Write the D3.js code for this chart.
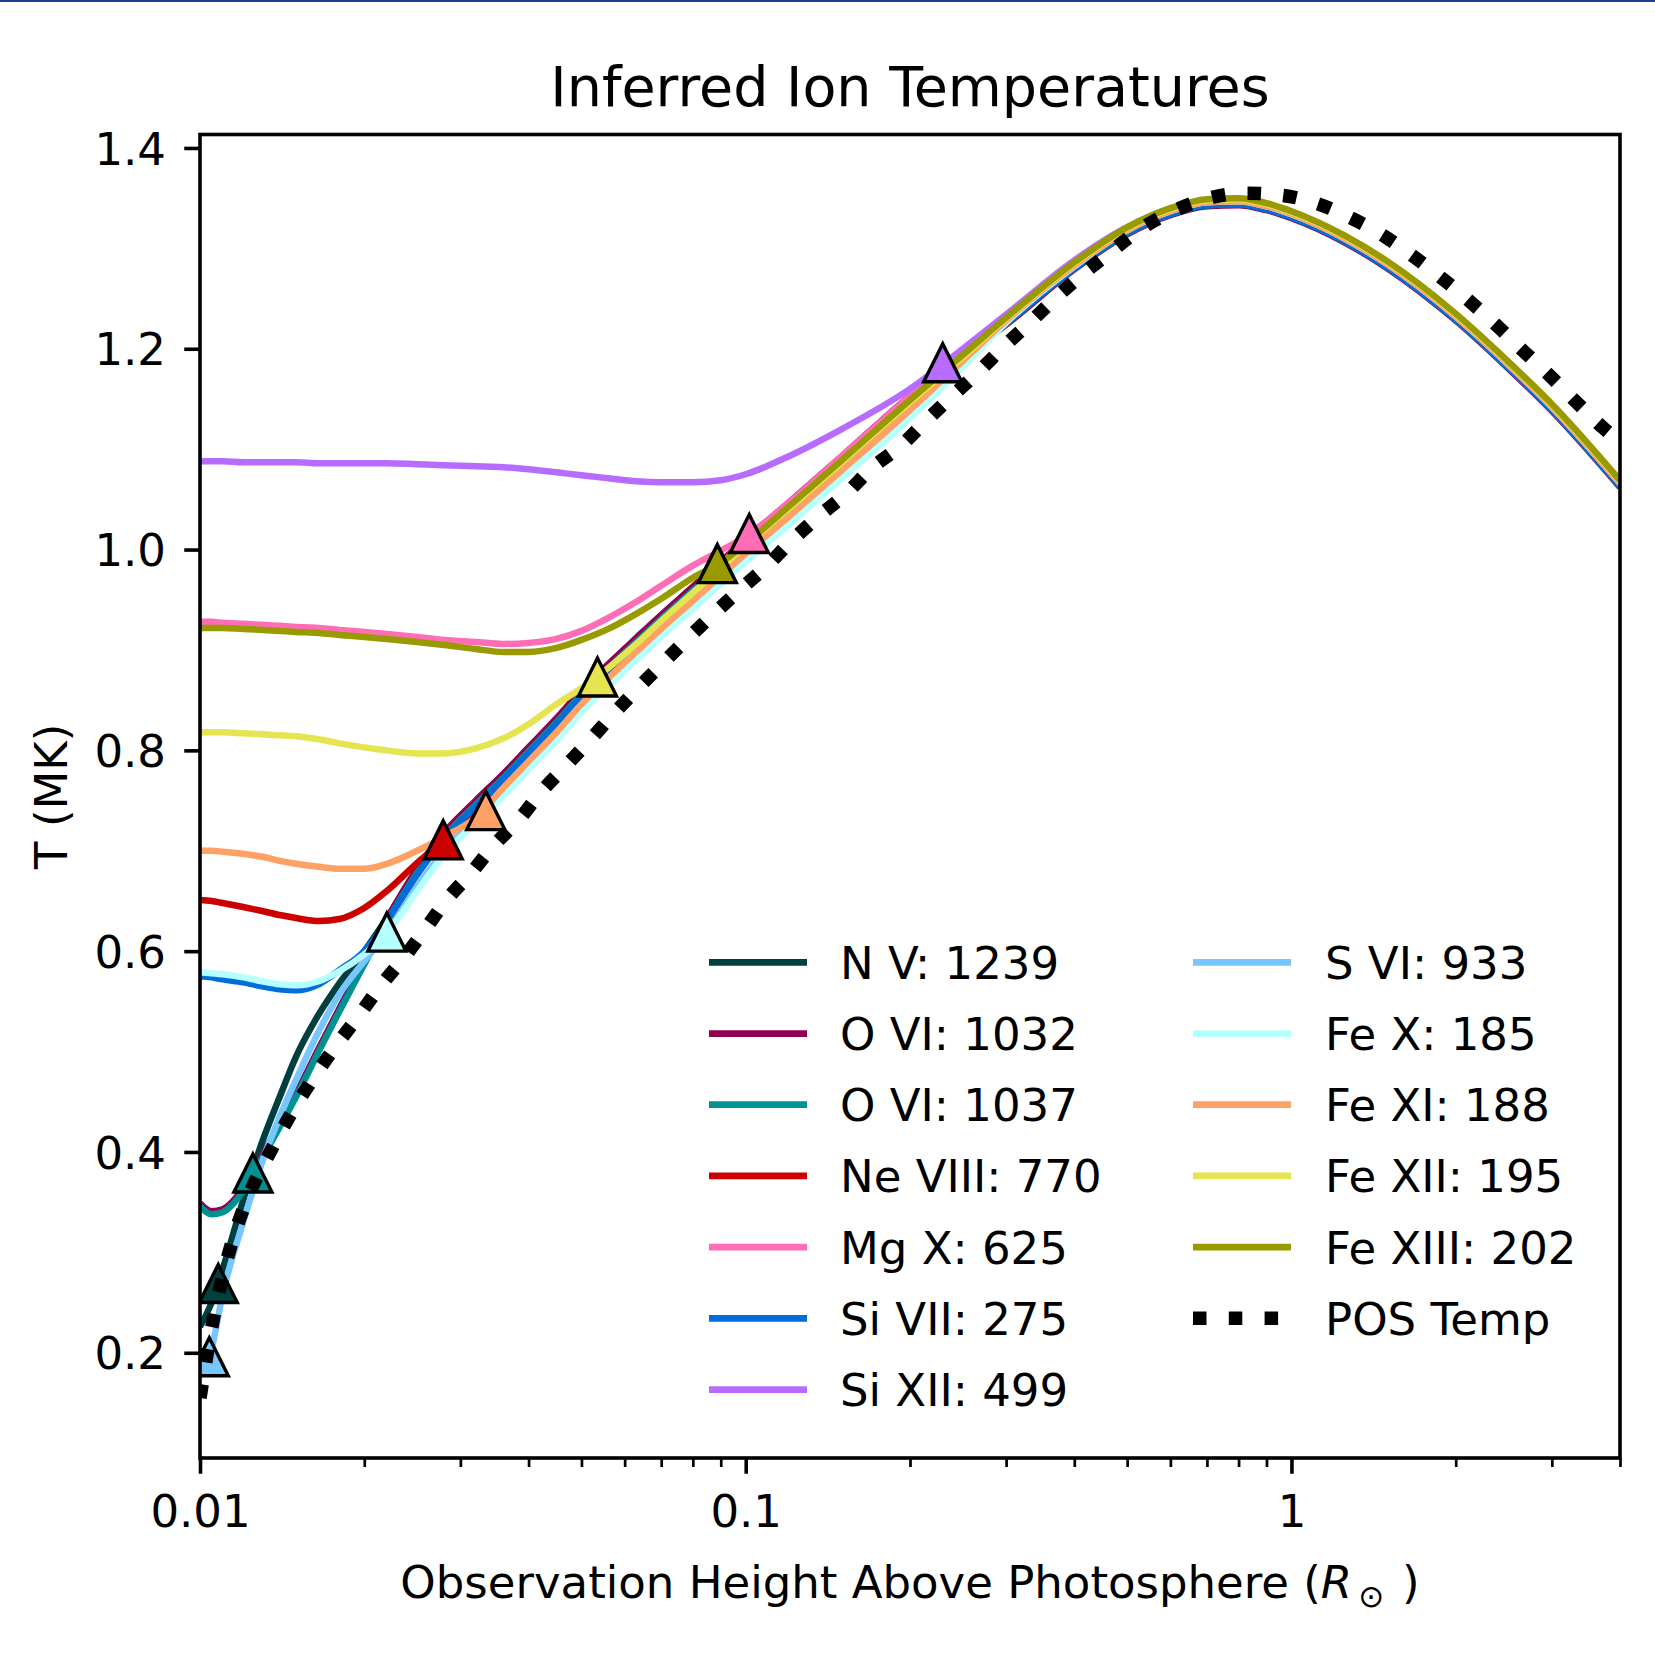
<!DOCTYPE html>
<html>
<head>
<meta charset="utf-8">
<script src="https://cdn.jsdelivr.net/npm/d3@7"></script>
<style>
  body { margin: 0; background: #fff; }
  text { font-family: "DejaVu Sans", sans-serif; fill: #000; }
</style>
</head>
<body>
<div id="chart"></div>
<script>
// --- DATA ---
// shared height grid (R_sun above photosphere)
const heights = [0.01, 0.0105, 0.011, 0.012, 0.013, 0.014, 0.015, 0.0165, 0.018, 0.02,
  0.022, 0.025, 0.028, 0.032, 0.036, 0.04, 0.045, 0.05, 0.056, 0.063,
  0.07, 0.08, 0.09, 0.1, 0.12, 0.15, 0.2, 0.25, 0.3, 0.4,
  0.5, 0.6, 0.7, 0.8, 0.9, 1.0, 1.25, 1.5, 2, 2.5, 3, 4];

const ionLabels = ["N V: 1239", "O VI: 1032", "O VI: 1037", "Ne VIII: 770", "Mg X: 625", "Si VII: 275",
  "Si XII: 499", "S VI: 933", "Fe X: 185", "Fe XI: 188", "Fe XII: 195", "Fe XIII: 202"];
const ionColors = ["#003f3f", "#920050", "#009292", "#cc0000", "#ff6db6", "#006ddb",
  "#b66dff", "#78c6ff", "#b6ffff", "#ffa064", "#e5e552", "#999900"];

// inferred temperatures (MK) on the height grid
const tNV = [0.226, 0.250, 0.283, 0.352, 0.410, 0.455, 0.495, 0.537, 0.568, 0.600, 0.633, 0.680, 0.716, 0.748, 0.775, 0.801, 0.830, 0.858, 0.884, 0.910, 0.933, 0.961, 0.986, 1.008, 1.045, 1.091, 1.151, 1.192, 1.225, 1.280, 1.315, 1.334, 1.343, 1.344, 1.339, 1.331, 1.307, 1.281, 1.229, 1.181, 1.139, 1.063];
const tOVI1032 = [0.349, 0.341, 0.343, 0.364, 0.397, 0.428, 0.458, 0.503, 0.543, 0.590, 0.632, 0.682, 0.718, 0.750, 0.777, 0.803, 0.832, 0.860, 0.886, 0.912, 0.935, 0.963, 0.988, 1.010, 1.047, 1.093, 1.153, 1.193, 1.224, 1.279, 1.314, 1.333, 1.342, 1.343, 1.338, 1.330, 1.306, 1.280, 1.228, 1.180, 1.138, 1.062];
const tOVI1037 = [0.346, 0.338, 0.340, 0.361, 0.394, 0.425, 0.455, 0.500, 0.540, 0.587, 0.629, 0.678, 0.714, 0.746, 0.773, 0.799, 0.828, 0.856, 0.882, 0.908, 0.931, 0.959, 0.984, 1.006, 1.043, 1.089, 1.149, 1.191, 1.225, 1.280, 1.315, 1.334, 1.343, 1.344, 1.339, 1.331, 1.307, 1.281, 1.229, 1.181, 1.139, 1.063];
const tNeVIII = [0.651, 0.650, 0.648, 0.644, 0.640, 0.636, 0.633, 0.630, 0.632, 0.643, 0.660, 0.688, 0.711, 0.742, 0.769, 0.795, 0.824, 0.852, 0.878, 0.904, 0.927, 0.955, 0.980, 1.002, 1.039, 1.085, 1.145, 1.191, 1.228, 1.283, 1.318, 1.337, 1.346, 1.347, 1.342, 1.334, 1.310, 1.284, 1.232, 1.184, 1.142, 1.066];
const tMgX = [0.928, 0.928, 0.927, 0.926, 0.925, 0.924, 0.923, 0.922, 0.920, 0.918, 0.916, 0.913, 0.910, 0.908, 0.906, 0.907, 0.911, 0.919, 0.932, 0.948, 0.964, 0.984, 0.999, 1.013, 1.047, 1.093, 1.153, 1.196, 1.229, 1.284, 1.319, 1.338, 1.347, 1.348, 1.343, 1.335, 1.311, 1.285, 1.233, 1.185, 1.143, 1.067];
const tSiVII = [0.575, 0.574, 0.572, 0.569, 0.565, 0.562, 0.561, 0.567, 0.581, 0.600, 0.630, 0.676, 0.712, 0.744, 0.771, 0.797, 0.826, 0.854, 0.880, 0.906, 0.929, 0.957, 0.982, 1.004, 1.041, 1.087, 1.147, 1.191, 1.225, 1.280, 1.315, 1.334, 1.343, 1.344, 1.339, 1.331, 1.307, 1.281, 1.229, 1.181, 1.139, 1.063];
const tSiXII = [1.088, 1.088, 1.088, 1.087, 1.087, 1.087, 1.087, 1.086, 1.086, 1.086, 1.086, 1.085, 1.084, 1.083, 1.082, 1.080, 1.077, 1.074, 1.071, 1.068, 1.067, 1.067, 1.069, 1.075, 1.093, 1.120, 1.160, 1.200, 1.234, 1.288, 1.321, 1.338, 1.347, 1.347, 1.342, 1.334, 1.310, 1.284, 1.232, 1.184, 1.142, 1.066];
const tSVI = [0.178, 0.204, 0.258, 0.330, 0.390, 0.435, 0.472, 0.520, 0.557, 0.590, 0.618, 0.664, 0.700, 0.732, 0.759, 0.785, 0.814, 0.842, 0.868, 0.894, 0.917, 0.945, 0.970, 0.992, 1.029, 1.075, 1.135, 1.185, 1.227, 1.283, 1.319, 1.338, 1.347, 1.348, 1.343, 1.335, 1.311, 1.285, 1.233, 1.185, 1.143, 1.067];
const tFeX = [0.579, 0.578, 0.577, 0.574, 0.570, 0.567, 0.566, 0.570, 0.580, 0.597, 0.618, 0.660, 0.696, 0.728, 0.755, 0.781, 0.810, 0.838, 0.864, 0.890, 0.913, 0.941, 0.966, 0.988, 1.025, 1.071, 1.131, 1.182, 1.226, 1.282, 1.318, 1.337, 1.346, 1.347, 1.342, 1.334, 1.310, 1.284, 1.232, 1.184, 1.142, 1.066];
const tFeXI = [0.700, 0.700, 0.699, 0.697, 0.694, 0.690, 0.687, 0.684, 0.682, 0.682, 0.687, 0.700, 0.714, 0.733, 0.763, 0.789, 0.818, 0.846, 0.872, 0.898, 0.921, 0.949, 0.974, 0.996, 1.033, 1.079, 1.139, 1.188, 1.228, 1.283, 1.318, 1.337, 1.346, 1.347, 1.342, 1.334, 1.310, 1.284, 1.232, 1.184, 1.142, 1.066];
const tFeXII = [0.818, 0.818, 0.818, 0.817, 0.816, 0.815, 0.814, 0.811, 0.807, 0.803, 0.800, 0.797, 0.797, 0.802, 0.812, 0.826, 0.846, 0.862, 0.882, 0.906, 0.929, 0.957, 0.982, 1.004, 1.041, 1.087, 1.147, 1.192, 1.230, 1.285, 1.320, 1.339, 1.348, 1.349, 1.344, 1.336, 1.312, 1.286, 1.234, 1.186, 1.144, 1.068];
const tFeXIII = [0.922, 0.922, 0.922, 0.921, 0.920, 0.919, 0.918, 0.917, 0.915, 0.913, 0.911, 0.908, 0.905, 0.901, 0.898, 0.898, 0.902, 0.910, 0.921, 0.936, 0.951, 0.972, 0.987, 1.006, 1.043, 1.089, 1.149, 1.194, 1.231, 1.286, 1.321, 1.340, 1.349, 1.350, 1.345, 1.337, 1.313, 1.287, 1.235, 1.187, 1.145, 1.069];

const ionTemps = [tNV, tOVI1032, tOVI1037, tNeVIII, tMgX, tSiVII, tSiXII, tSVI, tFeX, tFeXI, tFeXII, tFeXIII];

// triangle markers (null = not visible in figure)
const markerHeights = [0.0108, null, 0.0125, 0.0279, 0.1015, null, 0.2296, 0.0104, 0.022, 0.0334, 0.0535, 0.0887];
const markerTemps   = [0.269, null, 0.379, 0.711, 1.016, null, 1.186, 0.196, 0.619, 0.740, 0.873, 0.986];

// plane-of-sky temperature
const posHeights = [0.01, 0.0106, 0.0114, 0.0121, 0.0136, 0.0149, 0.0162, 0.0177, 0.0195, 0.0214,
  0.0236, 0.0258, 0.0283, 0.0314, 0.0345, 0.0384, 0.0421, 0.0467, 0.0518, 0.0574,
  0.0635, 0.0705, 0.0785, 0.0878, 0.0976, 0.109, 0.121, 0.136, 0.153, 0.17,
  0.192, 0.213, 0.238, 0.267, 0.297, 0.333, 0.372, 0.416, 0.47, 0.532,
  0.612, 0.706, 0.823, 0.956, 1.11, 1.277, 1.47, 1.673, 1.889, 2.135,
  2.39, 2.67, 2.99, 3.34, 3.73, 4.0];
const posTemps = [0.155, 0.236, 0.307, 0.348, 0.405, 0.444, 0.475, 0.505, 0.535, 0.565,
  0.593, 0.621, 0.651, 0.678, 0.705, 0.731, 0.758, 0.784, 0.810, 0.837,
  0.862, 0.887, 0.912, 0.937, 0.960, 0.983, 1.008, 1.033, 1.056, 1.081,
  1.103, 1.127, 1.152, 1.177, 1.202, 1.227, 1.252, 1.275, 1.298, 1.320,
  1.338, 1.350, 1.355, 1.353, 1.345, 1.331, 1.313, 1.292, 1.270, 1.246,
  1.222, 1.197, 1.172, 1.146, 1.121, 1.107];

const xTicks = [0.01, 0.1, 1];
const xTickLabels = ["0.01", "0.1", "1"];
const xMinorTicks = [0.02, 0.03, 0.04, 0.05, 0.06, 0.07, 0.08, 0.09,
  0.2, 0.3, 0.4, 0.5, 0.6, 0.7, 0.8, 0.9, 2, 3, 4];
const yTicks = [0.2, 0.4, 0.6, 0.8, 1.0, 1.2, 1.4];

// --- LAYOUT ---
const width = 1655, height = 1678;
const margin = { top: 134.5, right: 35, bottom: 220, left: 200 };
const plotW = width - margin.left - margin.right;
const plotH = height - margin.top - margin.bottom;
const fontSize = 45;
const lineW = 6.5;

const svg = d3.select("#chart").append("svg")
    .attr("width", width)
    .attr("height", height);

svg.append("rect").attr("width", width).attr("height", height).attr("fill", "#fff");

const g = svg.append("g")
    .attr("transform", `translate(${margin.left},${margin.top})`);

const xScale = d3.scaleLog().domain([0.01, 4]).range([0, plotW]);
const yScale = d3.scaleLinear().domain([0.0952, 1.4134]).range([plotH, 0]);

g.append("clipPath").attr("id", "plot-clip")
  .append("rect").attr("width", plotW).attr("height", plotH);

// --- AXES ---
g.append("g")
    .attr("transform", `translate(0,${plotH})`)
    .call(d3.axisBottom(xScale).tickValues(xMinorTicks).tickSize(9).tickFormat(""))
    .call(s => s.select(".domain").remove())
    .selectAll("line").attr("stroke", "#000").attr("stroke-width", 2.7);

const xAxis = g.append("g")
    .attr("transform", `translate(0,${plotH})`)
    .call(d3.axisBottom(xScale).tickValues(xTicks).tickSize(15.75).tickPadding(21.25)
        .tickFormat((d, i) => xTickLabels[i]))
    .attr("font-size", fontSize)
    .attr("font-family", '"DejaVu Sans", sans-serif');
xAxis.select(".domain").remove();
xAxis.selectAll("line").attr("stroke", "#000").attr("stroke-width", 3.6);

const yAxis = g.append("g")
    .call(d3.axisLeft(yScale).tickValues(yTicks).tickSize(15.75).tickPadding(18.25)
        .tickFormat(d3.format(".1f")))
    .attr("font-size", fontSize)
    .attr("font-family", '"DejaVu Sans", sans-serif');
yAxis.select(".domain").remove();
yAxis.selectAll("line").attr("stroke", "#000").attr("stroke-width", 3.6);
yAxis.selectAll("text").attr("dy", "0.36em");

// --- LINES ---
const line = d3.line()
    .x(d => xScale(d[0]))
    .y(d => yScale(d[1]))
    .curve(d3.curveMonotoneX);

const plot = g.append("g").attr("clip-path", "url(#plot-clip)");

ionTemps.forEach((temps, i) => {
    plot.append("path")
        .datum(heights.map((h, j) => [h, temps[j]]))
        .attr("fill", "none")
        .attr("stroke", ionColors[i])
        .attr("stroke-width", lineW)
        .attr("d", line);
});

// triangles at formation height
const tri = "M0,-19L19,19L-19,19Z";
ionTemps.forEach((temps, i) => {
    if (markerHeights[i] == null) return;
    plot.append("path")
        .attr("d", tri)
        .attr("transform", `translate(${xScale(markerHeights[i])},${yScale(markerTemps[i])})`)
        .attr("fill", ionColors[i])
        .attr("stroke", "#000")
        .attr("stroke-width", 3.4)
        .attr("stroke-linejoin", "miter");
});

// POS temperature, dotted
plot.append("path")
    .datum(posHeights.map((h, j) => [h, posTemps[j]]))
    .attr("fill", "none")
    .attr("stroke", "#000")
    .attr("stroke-width", 13.5)
    .attr("stroke-dasharray", "13.5 22.3")
    .attr("d", line);

// frame
g.append("rect")
    .attr("width", plotW)
    .attr("height", plotH)
    .attr("fill", "none")
    .attr("stroke", "#000")
    .attr("stroke-width", 3.6);

// --- LEGEND ---
const legend = svg.append("g").attr("font-size", fontSize);
const rowH = 71.2, row0 = 962.3;
const cols = [{ hx: 709, tx: 840 }, { hx: 1193, tx: 1325 }];
const entries = ionLabels.map((lab, i) => ({ label: lab, color: ionColors[i], dotted: false }))
    .concat([{ label: "POS Temp", color: "#000", dotted: true }]);

entries.forEach((e, i) => {
    const c = cols[i < 7 ? 0 : 1];
    const rowY = row0 + (i < 7 ? i : i - 7) * rowH;
    const l = legend.append("line")
        .attr("x1", c.hx).attr("x2", c.hx + 98)
        .attr("y1", rowY).attr("y2", rowY)
        .attr("stroke", e.color)
        .attr("stroke-width", e.dotted ? 13.5 : 6.75);
    if (e.dotted) l.attr("stroke-dasharray", "13.5 22.3");
    legend.append("text")
        .attr("x", c.tx)
        .attr("y", rowY + 16.4)
        .text(e.label);
});

// --- TITLES ---
svg.append("text")
    .attr("x", margin.left + plotW / 2)
    .attr("y", 106)
    .attr("text-anchor", "middle")
    .attr("font-size", 55.5)
    .text("Inferred Ion Temperatures");

const xl = svg.append("text")
    .attr("x", margin.left + plotW / 2)
    .attr("y", 1598)
    .attr("text-anchor", "middle")
    .attr("font-size", fontSize);
xl.append("tspan").text("Observation Height Above Photosphere (");
xl.append("tspan").attr("font-style", "italic").text("R");
xl.append("tspan").attr("font-size", 31).attr("dy", 9).attr("dx", 6).text("\u2299");
xl.append("tspan").attr("dy", -9).attr("dx", 18).text(")");

svg.append("text")
    .attr("transform", `translate(67,${margin.top + plotH / 2}) rotate(-90)`)
    .attr("text-anchor", "middle")
    .attr("font-size", fontSize)
    .text("T (MK)");

// thin blue rule along the top edge of the figure
svg.append("rect").attr("x", 0).attr("y", 0).attr("width", width).attr("height", 2).attr("fill", "#1f3f8f");
</script>
</body>
</html>
